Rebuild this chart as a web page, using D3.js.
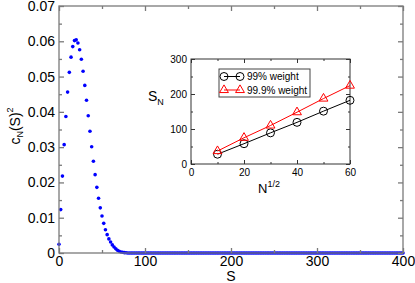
<!DOCTYPE html>
<html>
<head>
<meta charset="utf-8">
<script src="https://cdn.jsdelivr.net/npm/d3@7"></script>
<style>
  html, body { margin: 0; padding: 0; background: #fff; }
  svg { display: block; font-family: "Liberation Sans", Arial, Helvetica, sans-serif; }
  .tick text { fill: #000; }
</style>
</head>
<body>
<svg id="chart" width="415" height="283"></svg>
<script>
// main panel: c_N(S)^2 against S, one point every 2 steps of S
const sGrid = d3.range(0, 401, 2);
const weights = [
  0.0025, 0.0123, 0.0218, 0.0307, 0.0387, 0.0456, 0.0512, 0.0555, 0.0585, 0.0602,
  0.0604, 0.0595, 0.0576, 0.0549, 0.0515, 0.0475, 0.0433, 0.0389, 0.0345, 0.0301,
  0.0260, 0.0222, 0.0186, 0.0155, 0.0128, 0.0105, 0.0084, 0.0066, 0.0052, 0.0040,
  0.0031, 0.0023, 0.0017, 0.0012, 0.0008, 0.0005, 0.0003, 0.0002, 0.0001, 0.00005,
  0.00002,
  0, 0, 0, 0, 0, 0, 0, 0, 0, 0, 0, 0, 0, 0, 0, 0, 0, 0, 0, 0,
  0, 0, 0, 0, 0, 0, 0, 0, 0, 0, 0, 0, 0, 0, 0, 0, 0, 0, 0, 0,
  0, 0, 0, 0, 0, 0, 0, 0, 0, 0, 0, 0, 0, 0, 0, 0, 0, 0, 0, 0,
  0, 0, 0, 0, 0, 0, 0, 0, 0, 0, 0, 0, 0, 0, 0, 0, 0, 0, 0, 0,
  0, 0, 0, 0, 0, 0, 0, 0, 0, 0, 0, 0, 0, 0, 0, 0, 0, 0, 0, 0,
  0, 0, 0, 0, 0, 0, 0, 0, 0, 0, 0, 0, 0, 0, 0, 0, 0, 0, 0, 0,
  0, 0, 0, 0, 0, 0, 0, 0, 0, 0, 0, 0, 0, 0, 0, 0, 0, 0, 0, 0,
  0, 0, 0, 0, 0, 0, 0, 0, 0, 0, 0, 0, 0, 0, 0, 0, 0, 0, 0, 0
];
const xTicks = [0, 100, 200, 300, 400];
const xMinor = [50, 150, 250, 350];
const yTicks = [0, 0.01, 0.02, 0.03, 0.04, 0.05, 0.06, 0.07];
const yMinor = [0.005, 0.015, 0.025, 0.035, 0.045, 0.055, 0.065];

// inset: S_N against N^(1/2)
const sqrtN = [10, 20, 30, 40, 50, 60];
const w99 = [28, 58, 89, 119, 151, 182];
const w999 = [37, 75, 110, 148, 187, 224];
const insetXTicks = [0, 20, 40, 60];
const insetXMinor = [10, 30, 50];
const insetYTicks = [0, 100, 200, 300];
const insetYMinor = [50, 150, 250];
const legendLabels = ["99% weight", "99.9% weight"];

const svg = d3.select("#chart");

/**
 * Draw a boxed panel with inward ticks on all four sides
 */
function drawFrame(g, x, y, opt) {
  const [x0, x1] = x.range();
  const [y0, y1] = y.range();

  g.append("rect")
    .attr("x", x0).attr("y", y1)
    .attr("width", x1 - x0).attr("height", y0 - y1)
    .attr("fill", "none")
    .attr("stroke", opt.frame)
    .attr("stroke-width", opt.frameWidth);

  const sides = [
    [d3.axisBottom, x, `translate(0,${y0})`, opt.xTicks, opt.xMinor, opt.xFormat, opt.xPad],
    [d3.axisTop, x, `translate(0,${y1})`, opt.xTicks, opt.xMinor, null, 0],
    [d3.axisLeft, y, `translate(${x0},0)`, opt.yTicks, opt.yMinor, opt.yFormat, opt.yPad],
    [d3.axisRight, y, `translate(${x1},0)`, opt.yTicks, opt.yMinor, null, 0]
  ];

  sides.forEach(([make, sc, tr, major, minor, fmt, pad]) => {
    const a = g.append("g")
      .attr("transform", tr)
      .call(make(sc)
        .tickValues(major)
        .tickSize(-opt.major)
        .tickPadding(pad)
        .tickFormat(fmt || (() => "")));
    a.select(".domain").remove();
    a.selectAll(".tick line").attr("stroke", opt.frame).attr("stroke-width", opt.frameWidth);
    a.selectAll(".tick text").attr("font-size", opt.fontSize);

    const m = g.append("g")
      .attr("transform", tr)
      .call(make(sc).tickValues(minor).tickSize(-opt.minor).tickFormat(() => ""));
    m.select(".domain").remove();
    m.selectAll(".tick line").attr("stroke", opt.frame).attr("stroke-width", opt.frameWidth);
  });
}

// ---- main panel ----
const x = d3.scaleLinear().domain([0, 400]).range([59, 403]);
const y = d3.scaleLinear().domain([0, 0.07]).range([253, 6]);

const main = svg.append("g");

main.append("g")
  .selectAll("circle")
  .data(sGrid.map((s, i) => ({ s, v: weights[i] })))
  .join("circle")
  .attr("cx", d => x(d.s))
  .attr("cy", d => y(d.v))
  .attr("r", 1.8)
  .attr("fill", "#0000ff");

drawFrame(main, x, y, {
  frame: "#7a7a7a", frameWidth: 1.3,
  xTicks, xMinor, yTicks, yMinor,
  xFormat: d => d, yFormat: d => d === 0 ? "0" : d.toFixed(2),
  major: 5, minor: 3, xPad: 3, yPad: 4, fontSize: 14
});

main.append("text")
  .attr("x", x(200)).attr("y", 281)
  .attr("text-anchor", "middle")
  .attr("font-size", 14)
  .text("S");

const yl = main.append("text")
  .attr("transform", "translate(20,126) rotate(-90)")
  .attr("text-anchor", "middle")
  .attr("font-size", 14);
yl.append("tspan").text("c");
yl.append("tspan").attr("font-size", 9).attr("dy", 3).text("N");
yl.append("tspan").attr("dy", -3).text("(S)");
yl.append("tspan").attr("font-size", 9).attr("dy", -7).text("2");

// ---- inset ----
const ix = d3.scaleLinear().domain([0, 60]).range([191, 350]);
const iy = d3.scaleLinear().domain([0, 300]).range([164, 59]);

const inset = svg.append("g");
inset.append("rect")
  .attr("x", 191).attr("y", 59).attr("width", 159).attr("height", 105)
  .attr("fill", "#fff");

drawFrame(inset, ix, iy, {
  frame: "#333", frameWidth: 1,
  xTicks: insetXTicks, xMinor: insetXMinor, yTicks: insetYTicks, yMinor: insetYMinor,
  xFormat: d => d, yFormat: d => d,
  major: 4, minor: 2, xPad: 5, yPad: 4, fontSize: 10
});

const line = d3.line().x(d => ix(d[0])).y(d => iy(d[1]));
const circle = d3.symbol().type(d3.symbolCircle).size(50);
const triangle = d3.symbol().type(d3.symbolTriangle).size(34);

const series = [
  { vals: w99, color: "#000", sym: circle },
  { vals: w999, color: "#ff0000", sym: triangle }
];

series.forEach(sr => {
  const pts = sqrtN.map((n, i) => [n, sr.vals[i]]);
  inset.append("path")
    .attr("d", line(pts))
    .attr("fill", "none")
    .attr("stroke", sr.color)
    .attr("stroke-width", 1);
  inset.append("g")
    .selectAll("path")
    .data(pts)
    .join("path")
    .attr("transform", d => `translate(${ix(d[0])},${iy(d[1])})`)
    .attr("d", sr.sym())
    .attr("fill", "none")
    .attr("stroke", sr.color)
    .attr("stroke-width", 1);
});

// legend
const lg = inset.append("g");
lg.append("rect")
  .attr("x", 219).attr("y", 69).attr("width", 91).attr("height", 28)
  .attr("fill", "#fff").attr("stroke", "#444").attr("stroke-width", 1);

series.forEach((sr, i) => {
  const ly = 76.5 + i * 13.5;
  lg.append("line")
    .attr("x1", 224).attr("x2", 240).attr("y1", ly).attr("y2", ly)
    .attr("stroke", sr.color);
  [224, 240].forEach(px => {
    lg.append("path")
      .attr("transform", `translate(${px},${ly})`)
      .attr("d", sr.sym())
      .attr("fill", "none")
      .attr("stroke", sr.color);
  });
  lg.append("text")
    .attr("x", 247).attr("y", ly + 3.6)
    .attr("font-size", 10)
    .text(legendLabels[i]);
});

// inset axis titles
const sl = inset.append("text")
  .attr("x", 148).attr("y", 101)
  .attr("font-size", 14);
sl.append("tspan").text("S");
sl.append("tspan").attr("font-size", 9).attr("dy", 4).text("N");

const nl = inset.append("text")
  .attr("x", 258).attr("y", 193)
  .attr("font-size", 13);
nl.append("tspan").text("N");
nl.append("tspan").attr("font-size", 9).attr("dy", -6).text("1/2");
</script>
</body>
</html>
